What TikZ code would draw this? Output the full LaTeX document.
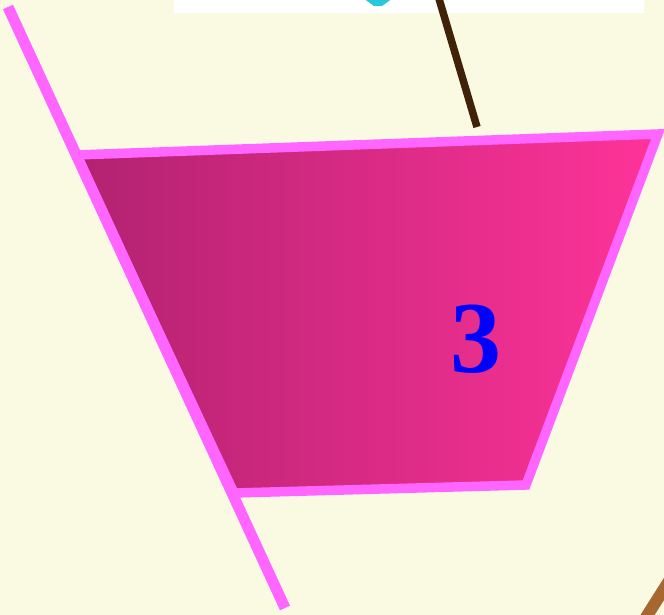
\documentclass[tikz,border=0pt]{standalone}
\usepackage{fontspec}
\setmainfont{Liberation Serif}
\usetikzlibrary{calc}
\definecolor{bgcream}{RGB}{250,250,227}
\definecolor{trapleft}{RGB}{178,34,112}
\definecolor{trapright}{RGB}{255,51,153}
\definecolor{rimpink}{RGB}{255,102,255}
\definecolor{stickbrown}{RGB}{64,34,8}
\definecolor{rodbrown}{RGB}{166,104,48}
\definecolor{tipcyan}{RGB}{40,200,220}
\definecolor{numblue}{RGB}{0,0,255}
\tikzset{
  piece/.style={draw=rimpink, line width=9.5pt, line join=miter, left color=trapleft, right color=trapright},
  guide/.style={draw=rimpink, line width=11pt},
  stick/.style={draw=stickbrown, line width=7.5pt},
  rod/.style={draw=rodbrown, line width=12pt},
  num/.style={text=numblue, font=\fontsize{102}{102}\selectfont\bfseries, inner sep=0pt}
}
\begin{document}
\begin{tikzpicture}[x=1pt, y=-1pt]
  \useasboundingbox (0,0) rectangle (664,615);
  \clip (0,0) rectangle (664,615);
  \fill[bgcream] (0,0) rectangle (664,615);
  % panel at the top
  \fill[white] (174,-5) rectangle (644,13);
  \fill[tipcyan] (363,-2) -- (393,-2) -- (382,6) -- (374,6) -- cycle;
  \coordinate (stickA) at (437,-8);
  \coordinate (stickB) at (477,127);
  \draw[stick] (stickA) -- (stickB);
  % the piece
  \coordinate (tl) at (76,155);
  \coordinate (tr) at (658,134);
  \coordinate (br) at (526,485);
  \coordinate (bl) at (234,493);
  \path[piece] (tl) -- (tr) -- (br) -- (bl) -- cycle;
  \node[num] (three) at (476,339) {3};
  % guide line
  \coordinate (guideA) at (8,7);
  \coordinate (guideB) at (285,608);
  \draw[guide] (guideA) -- (guideB);
  % rod at bottom right
  \coordinate (rodA) at (676,570);
  \coordinate (rodB) at (638,630);
  \draw[rod] (rodA) -- (rodB);
\end{tikzpicture}
\end{document}
